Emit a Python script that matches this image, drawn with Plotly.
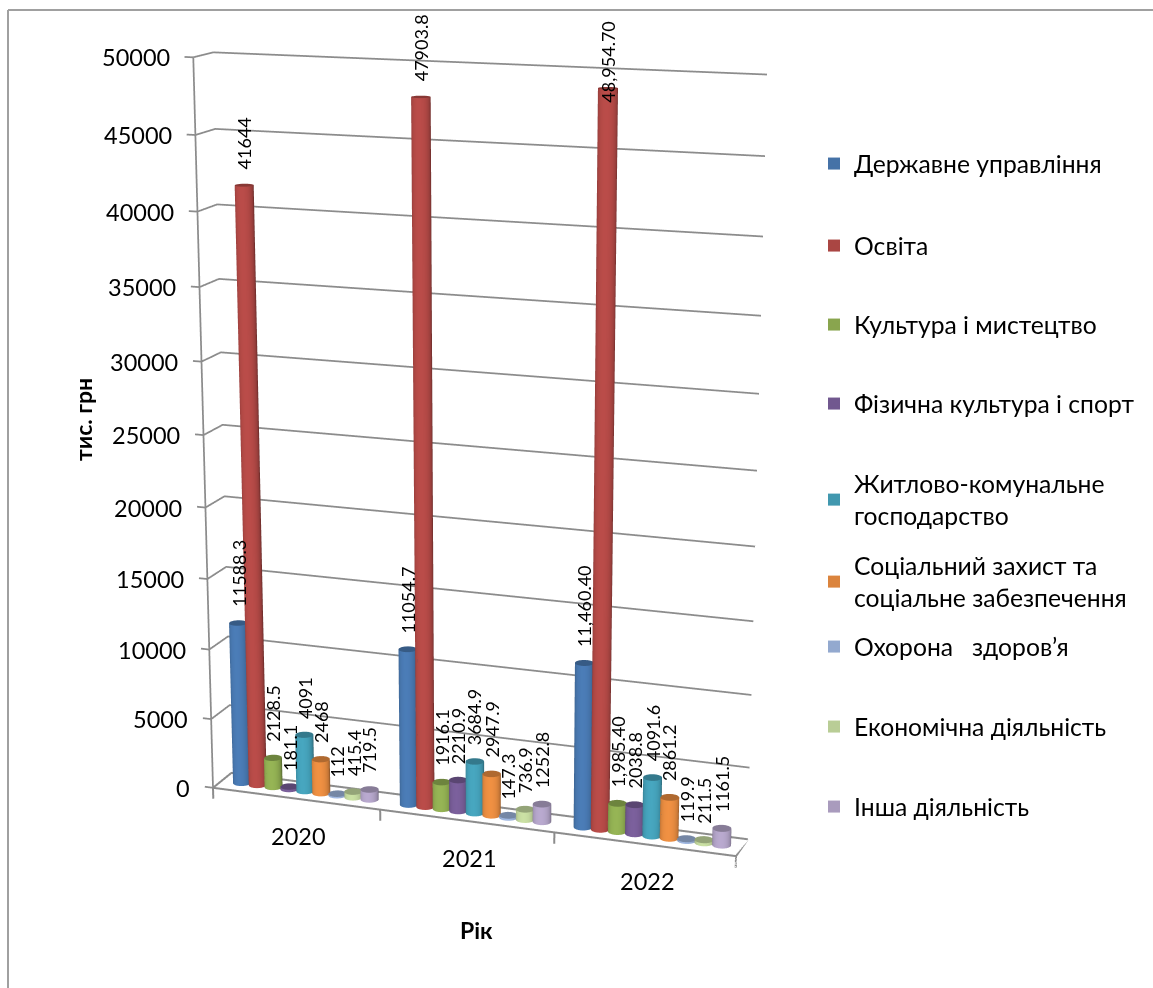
import numpy as np
import plotly.graph_objects as go

years = ["2020", "2021", "2022"]
names = ["Державне управління", "Освіта", "Культура і мистецтво", "Фізична культура і спорт",
         "Житлово-комунальне<br>господарство", "Соціальний захист та<br>соціальне забезпечення",
         "Охорона   здоров’я", "Економічна діяльність", "Інша діяльність"]
colors = ["#4572A7", "#AA4643", "#89A54E", "#71588F", "#4198AF", "#DB843D", "#93A9CF", "#B9CD96", "#A99BBD"]
derzh = [11588.3, 11054.7, 11460.4]
osvita = [41644, 47903.8, 48954.7]
kultura = [2128.5, 1916.1, 1985.4]
sport = [181.1, 2210.9, 2038.8]
zhkg = [4091, 3684.9, 4091.6]
soc = [2468, 2947.9, 2861.2]
ohorona = [112, 147.3, 119.9]
econ = [415.4, 736.9, 211.5]
insha = [719.5, 1252.8, 1161.5]
series = [derzh, osvita, kultura, sport, zhkg, soc, ohorona, econ, insha]
label_text = [["11588.3", "11054.7", "11,460.40"], ["41644", "47903.8", "48,954.70"], ["2128.5", "1916.1", "1,985.40"],
              ["181.1", "2210.9", "2038.8"], ["4091", "3684.9", "4091.6"], ["2468", "2947.9", "2861.2"],
              ["112", "147.3", "119.9"], ["415.4", "736.9", "211.5"], ["719.5", "1252.8", "1161.5"]]
z_ticks = list(range(0, 50001, 5000))

bar_step = 0.096
bar_off = 0.005

# Camera matching the reference's narrow-lens perspective. Plotly's field of view is fixed,
# so the figure is taller than the window and shifted up to keep the scene centred in view.
PAGE_W, PAGE_H = 1153, 988
FIG_H = 2358
TOP = FIG_H // 2 - 494
eye = np.array([1.86474, -5.21153, 1.40510])
center = np.array([0.04541, -0.02944, -0.07478])
ax, ay, az = 1.14491, 0.09455, 1.54445
upv = [-0.01943, 0.03982, 1]

def py(v):
    return 1 - (v + TOP) / FIG_H
def px(v):
    return v / PAGE_W

x_min, x_max = -0.1, 3
z_min, z_max = -1200, 50000.5
s_shift = np.array([-x_min/2*ax/3, 0, -z_min/2*az/50000])
eye_b = eye + s_shift
center_b = center + s_shift
aspect_b = dict(x=ax*(x_max-x_min)/3, y=ay, z=az*(z_max-z_min)/50000)

rx = 0.05
ry = min(0.3, rx * (ax / 3) / ay)
n = 40

def mix(col, f):
    rgb = [int(col[i:i+2], 16) for i in (1, 3, 5)]
    return "rgb(" + ",".join(str(int(min(255, c * f))) for c in rgb) + ")"

fig = go.Figure()
ann = []
LFONT = "Lato, Noto Sans"
for s, (vals, col, name) in enumerate(zip(series, colors, names)):
    X, Y, Z, I, J_, K, VC = [], [], [], [], [], [], []
    for c, v in enumerate(vals):
        x0 = c + 0.5 + bar_off + (s - 4) * bar_step
        y0 = 0.5
        base = len(X)
        for k in range(n):
            t = 2 * np.pi * k / n
            front = max(0.0, -np.sin(t - 0.15))
            f = 0.62 + 0.48 * front ** 0.6
            for zz in (0, v):
                X.append(x0 + rx * np.cos(t)); Y.append(y0 + ry * np.sin(t)); Z.append(zz); VC.append(mix(col, f))
        for k in range(n):
            a = base + 2 * k; b = base + 2 * ((k + 1) % n)
            I += [a, a + 1]; J_ += [b, b]; K += [a + 1, b + 1]
        capc = len(X)
        X.append(x0); Y.append(y0); Z.append(v); VC.append(mix(col, 0.8))
        for k in range(n):
            t = 2 * np.pi * k / n
            X.append(x0 + rx * np.cos(t)); Y.append(y0 + ry * np.sin(t)); Z.append(v); VC.append(mix(col, 0.8))
        for k in range(n):
            I.append(capc); J_.append(capc + 1 + k); K.append(capc + 1 + (k + 1) % n)
        ann.append(dict(x=x0, y=y0, z=v, text=label_text[s][c], textangle=-90, showarrow=False,
                        xanchor="center", yanchor="bottom", yshift=14 if not (s == 1 and c == 2) else -16,
                        font=dict(family=LFONT, size=18, color="black")))
    fig.add_trace(go.Mesh3d(x=X, y=Y, z=Z, i=I, j=J_, k=K, vertexcolor=VC, hoverinfo="skip", showlegend=False,
                            flatshading=False, lighting=dict(ambient=1, diffuse=0, specular=0, fresnel=0, roughness=1)))
    fig.add_trace(go.Scatter3d(x=[None], y=[None], z=[None], mode="markers", name=name, showlegend=True,
                               legend="legend" if s == 0 else f"legend{s+1}",
                               marker=dict(symbol="square", size=17, color=col)))

GRID = "#8C8C8C"
fx, fy, fz = [0, 3, 3, 0, 0], [0, 0, 1, 1, 0], [0, 0, 0, 0, 0]
for k in range(4):
    fx += [None, k, k]; fy += [None, 0, 0]; fz += [None, 0, -800]
fig.add_trace(go.Scatter3d(x=fx, y=fy, z=fz, mode="lines", line=dict(color=GRID, width=4), hoverinfo="skip", showlegend=False))
gx, gy, gz = [0, 0], [0, 0], [0, 50000]
for tv in z_ticks:
    gx += [None, -0.05, 0, 0, 3]; gy += [None, 0, 0, 1, 1]; gz += [None, tv, tv, tv, tv]
fig.add_trace(go.Scatter3d(x=gx, y=gy, z=gz, mode="lines", line=dict(color=GRID, width=3.5), hoverinfo="skip", showlegend=False))

for tv in z_ticks:
    ann.append(dict(x=0, y=0, z=tv, text=str(tv), showarrow=False, xanchor="right", yanchor="middle", xshift=-21,
                    font=dict(family=LFONT, size=23.5, color="black")))
for c, yr in enumerate(years):
    ann.append(dict(x=c + 0.5, y=0, z=0, text=yr, showarrow=False, xanchor="center", yanchor="middle", xshift=3, yshift=-37,
                    font=dict(family=LFONT, size=23.5, color="black")))

legend_y = [164, 246, 325, 404, 500, 582, 647, 727, 807]
layout_legends = {}
for s, ly in enumerate(legend_y):
    key = "legend" if s == 0 else f"legend{s+1}"
    layout_legends[key] = dict(x=px(814), y=py(ly), xanchor="left", yanchor="middle", bgcolor="rgba(0,0,0,0)",
                               font=dict(family=LFONT, size=24.7, color="black"), itemsizing="constant")

fig.update_layout(
    width=PAGE_W, height=FIG_H, margin=dict(l=0, r=0, t=0, b=0), paper_bgcolor="white", showlegend=True,
    scene=dict(
        domain=dict(x=[0, 980/PAGE_W], y=[0, 1]),
        aspectmode="manual", aspectratio=aspect_b,
        camera=dict(eye=dict(x=eye_b[0], y=eye_b[1], z=eye_b[2]), center=dict(x=center_b[0], y=center_b[1], z=center_b[2]),
                    up=dict(x=upv[0], y=upv[1], z=upv[2]), projection=dict(type="perspective")),
        xaxis=dict(range=[x_min, x_max], visible=False),
        yaxis=dict(range=[0, 1], visible=False),
        zaxis=dict(range=[z_min, z_max], visible=False),
        annotations=ann,
    ),
    annotations=[
        dict(x=px(83), y=py(420), xref="paper", yref="paper", xanchor="center", yanchor="middle",
             text="<b>тис. грн</b>", textangle=-90, showarrow=False, font=dict(family=LFONT, size=23, color="black")),
        dict(x=px(476), y=py(930), xref="paper", yref="paper", xanchor="center", yanchor="middle",
             text="<b>Рік</b>", showarrow=False, font=dict(family=LFONT, size=23, color="black")),
    ],
    shapes=[dict(type="line", xref="paper", yref="paper", x0=px(8), x1=px(8), y0=py(10), y1=py(988), line=dict(color="#A0A0A0", width=2)),
            dict(type="line", xref="paper", yref="paper", x0=px(8), x1=1, y0=py(10), y1=py(10), line=dict(color="#A0A0A0", width=2))],
    **layout_legends,
)
post = ("document.documentElement.style.height='%dpx';document.documentElement.style.overflow='hidden';"
        "document.body.style.margin='0';document.body.style.overflow='hidden';document.body.style.height='%dpx';"
        "var g=document.getElementById('{plot_id}');g.style.position='absolute';g.style.left='0';g.style.top='-%dpx';") % (PAGE_H, PAGE_H, TOP)
fig.write_html("out.html", config=dict(displayModeBar=False), post_script=post)
